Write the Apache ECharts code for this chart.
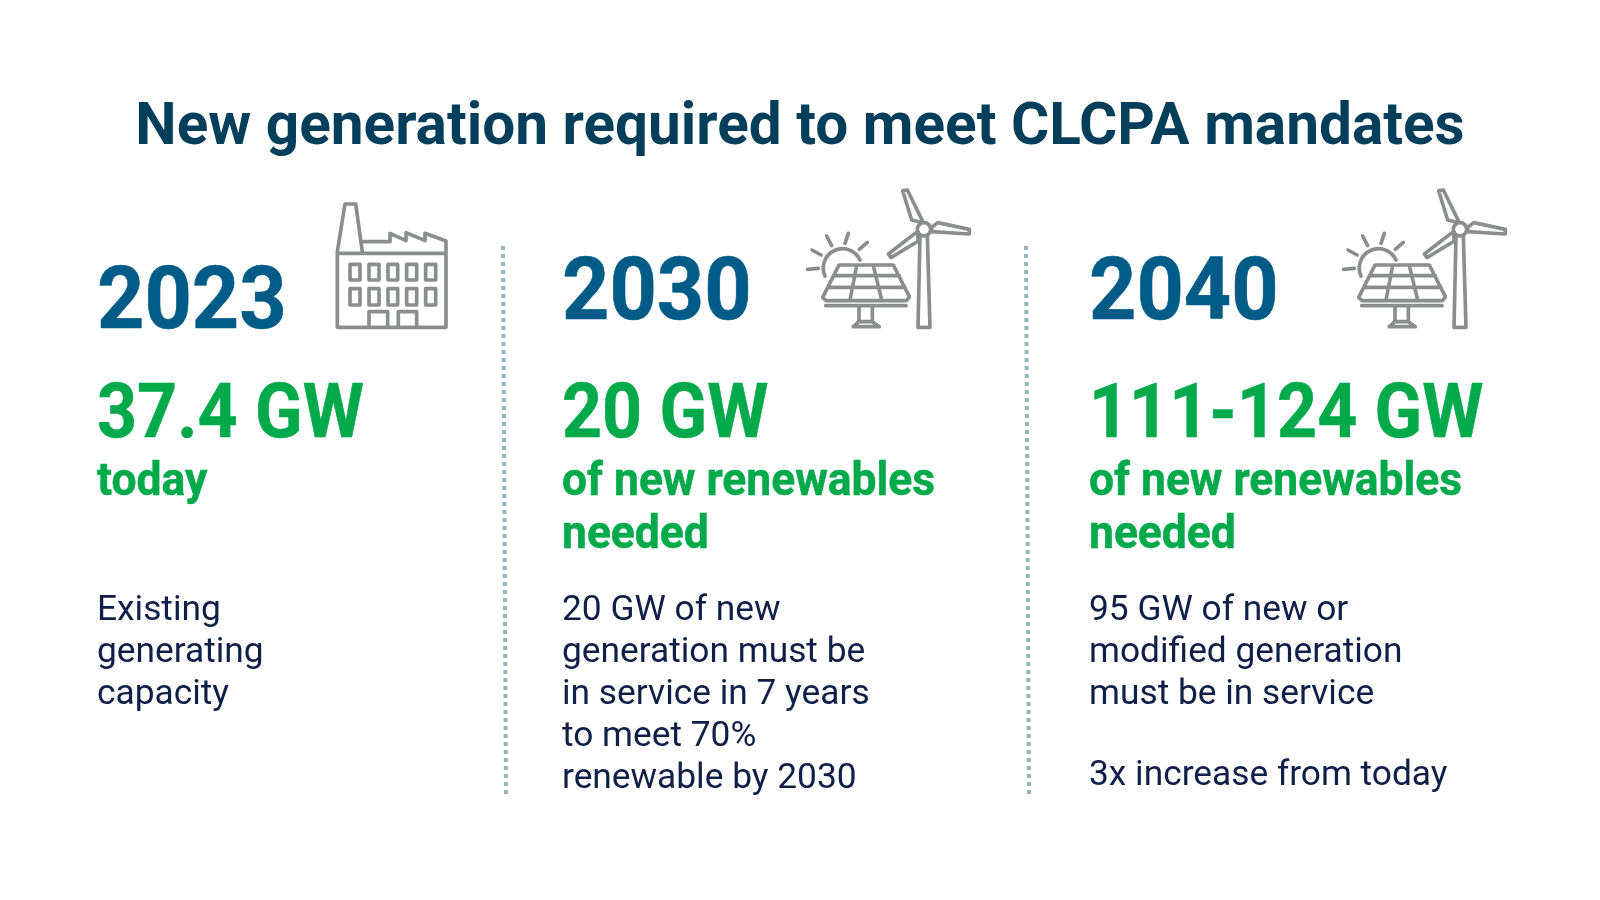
<!DOCTYPE html>
<html>
<head>
<meta charset="utf-8">
<title>New generation required to meet CLCPA mandates</title>
<script src="https://cdn.jsdelivr.net/npm/echarts@6/dist/echarts.min.js"></script>
<style>
html, body { margin: 0; padding: 0; background: #fff; }
#container { width: 1600px; height: 900px; }
</style>
</head>
<body>
<div id="container"></div>
<script>
var chartTitle = 'New generation required to meet CLCPA mandates';
var years = ['2023', '2030', '2040'];
var amounts = ['37.4 GW', '20 GW', '111-124 GW'];
var subLines = [['today'], ['of new renewables', 'needed'], ['of new renewables', 'needed']];
var bodyLines = [
	['Existing', 'generating', 'capacity'],
	['20 GW of new', 'generation must be', 'in service in 7 years', 'to meet 70%', 'renewable by 2030'],
	['95 GW of new or', 'modified generation', 'must be in service']
];
var bodyExtra = [null, null, '3x increase from today'];

var FONT = 'Roboto, sans-serif';
var colX = [97, 562, 1089];
var yearBase = [331, 322, 322];
var GREY = '#8b8d8f';
var GREEN = '#00a94a';
var NAVY = '#0f1f47';

// icons drawn in a 3x space, scaled down when placed
var factoryPath = 'M112 472V245L135 102H167L187 245M112 250H438M187 215H270V190L318 212V188L375 212V190L438 213V472H112' +
	'M150 283H180V330H150ZM207 283H237V330H207ZM264 283H293V330H264ZM320 283H350V330H320ZM377 283H407V330H377Z' +
	'M150 356H180V405H150ZM207 356H237V405H207ZM264 356H293V405H264ZM320 356H350V405H320ZM377 356H407V405H377Z' +
	'M207 472V425H263V472M295 472V425H350V472';
var energyPath = 'M105 318A55 55 0 0 1 210 270M53 298L85 295M66 240L93 255M110 198L125 227M175 190L165 220M232 217L208 238' +
	'M147 285H310L358 380L350 392H108L98 382Z' +
	'M133 317H328M118 352H342M200 287L180 390M250 287L275 390M107 407H348' +
	'M207 410V455M247 410V455M207 455L190 470H268L247 455Z' +
	'M390 198L384 472H420L412 198' +
	'M400 158L352 60L338 62L365 150Z' +
	'M425 185L538 192L538 178L443 158L425 172Z' +
	'M382 185L295 252L303 263L385 213Z' +
	'M422 178A20 20 0 1 1 382 178A20 20 0 1 1 422 178Z';

// baseline is the alphabetic baseline of the text; embolden thickens the heavy headings a little
function text(str, x, baseline, size, weight, color, scaleX, embolden) {
	return {
		type: 'text',
		x: x,
		y: baseline - size * 0.29,
		scaleX: scaleX || 1,
		silent: true,
		style: {
			text: str,
			x: 0,
			y: 0,
			fill: color,
			stroke: embolden ? color : null,
			lineWidth: embolden || 0,
			font: weight + ' ' + size + 'px ' + FONT,
			align: 'left',
			verticalAlign: 'middle'
		}
	};
}

function divider(x1, x2) {
	return {
		type: 'line',
		silent: true,
		shape: { x1: x1, y1: 246, x2: x2, y2: 794 },
		style: { stroke: '#93b5c0', lineWidth: 4, lineDash: [4, 4] }
	};
}

var els = [];
var t = text(chartTitle, 800, 146, 58.5, 'bold', '#033f5a');
t.style.align = 'center';
els.push(t);

for (var i = 0; i < years.length; i++) {
	els.push(text(years[i], colX[i], yearBase[i], 87, 'bold', '#005b87', 0.95, 0.6));
	els.push(text(amounts[i], colX[i], 440, 76, 'bold', GREEN, 0.92, 0.5));
	for (var j = 0; j < subLines[i].length; j++) {
		els.push(text(subLines[i][j], colX[i], 496.7 + j * 53, 46.5, 'bold', GREEN, 0.955, 0.5));
	}
	for (var k = 0; k < bodyLines[i].length; k++) {
		els.push(text(bodyLines[i][k], colX[i], 621.2 + k * 42, 35.3, 'normal', NAVY));
	}
	if (bodyExtra[i]) {
		els.push(text(bodyExtra[i], colX[i], 786.2, 35.3, 'normal', NAVY));
	}
}

els.push(divider(503, 506));
els.push(divider(1026, 1029));

// path elements are only available through a custom series
var iconList = [[factoryPath, 300, 170], [energyPath, 790, 170], [energyPath, 1326, 170]];

var myChart = echarts.init(document.getElementById('container'));
myChart.setOption({
	backgroundColor: '#ffffff',
	animation: false,
	graphic: { elements: els },
	series: [{
		type: 'custom',
		coordinateSystem: 'none',
		silent: true,
		data: iconList.map(function (d, idx) { return [idx]; }),
		renderItem: function (params) {
			var ic = iconList[params.dataIndex];
			return {
				type: 'path',
				x: ic[1],
				y: ic[2],
				scaleX: 1 / 3,
				scaleY: 1 / 3,
				shape: { pathData: ic[0] },
				style: { fill: 'none', stroke: GREY, lineWidth: 11, lineJoin: 'round', lineCap: 'round' }
			};
		}
	}]
});
</script>
</body>
</html>
